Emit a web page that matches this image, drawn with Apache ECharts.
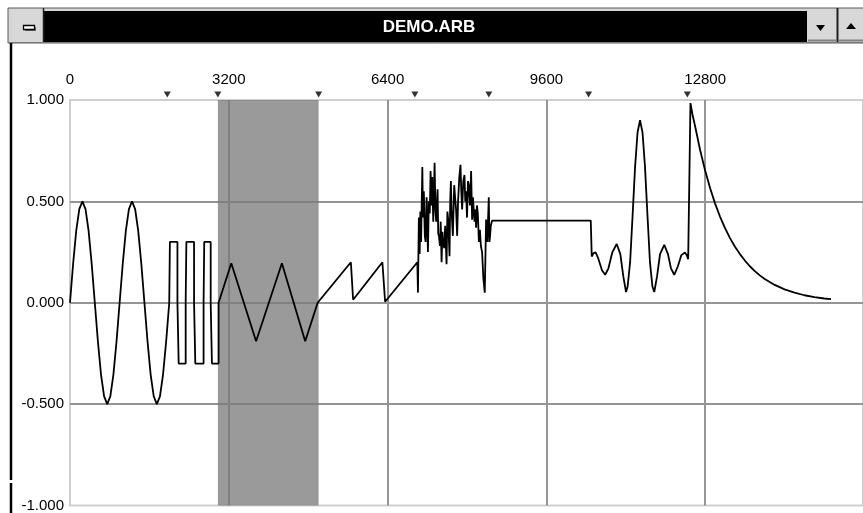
<!DOCTYPE html>
<html>
<head>
<meta charset="utf-8">
<script src="https://cdn.jsdelivr.net/npm/echarts@6/dist/echarts.min.js"></script>
<style>
html,body{margin:0;padding:0;background:#fff;}
#chart{width:863px;height:513px;}
</style>
</head>
<body>
<div id="chart"></div>
<script>
// ---- data ----
const titleText = 'DEMO.ARB';
const xTicks = [0, 3200, 6400, 9600, 12800];
const yTicks = [-1, -0.5, 0, 0.5, 1];
const markerX = [1960, 2980, 5010, 6950, 8440, 10450, 12440];
const shadedRange = [2980, 5010];

const sineSeg = [
  [0,0],[62.5,0.191],[125,0.354],[187.5,0.462],[250,0.5],[312.5,0.462],[375,0.354],[437.5,0.191],
  [500,0],[562.5,-0.191],[625,-0.354],[687.5,-0.462],[750,-0.5],[812.5,-0.462],[875,-0.354],[937.5,-0.191],
  [1000,0],[1062.5,0.191],[1125,0.354],[1187.5,0.462],[1250,0.5],[1312.5,0.462],[1375,0.354],[1437.5,0.191],
  [1500,0],[1562.5,-0.191],[1625,-0.354],[1687.5,-0.462],[1750,-0.5],[1812.5,-0.462],[1875,-0.354],[1937.5,-0.191],
  [2000,0]
];
const squareSeg = [
  [2013,0],[2013,0.3],[2165,0.3],[2165,0],[2190,0],[2190,-0.3],
  [2331,-0.3],[2331,0],[2345,0],[2345,0.3],[2500,0.3],[2500,0],[2525,0],[2525,-0.3],
  [2692,-0.3],[2692,0],[2705,0],[2705,0.3],[2835,0.3],[2835,0],[2860,0],[2860,-0.3],
  [2994,-0.3]
];
const triangleSeg = [
  [2994,0],[3250,0.195],[3750,-0.19],[4270,0.195],[4740,-0.19],[4990,0]
];
const sawSeg = [
  [5660,0.2],[5705,0.015],[6295,0.2],[6350,0.005],[6999,0.2]
];
const noiseSeg = [
  [7012,0.05],[7030,0.42],[7046,0.24],[7060,0.45],[7075,0.30],[7100,0.67],[7113,0.42],[7130,0.55],
  [7150,0.33],[7166,0.30],[7186,0.52],[7200,0.38],[7213,0.25],[7230,0.50],[7250,0.44],[7266,0.65],
  [7286,0.48],[7300,0.62],[7320,0.40],[7347,0.69],[7365,0.45],[7380,0.40],[7407,0.56],[7420,0.34],
  [7434,0.33],[7455,0.28],[7470,0.40],[7488,0.20],[7505,0.35],[7515,0.30],[7541,0.27],[7560,0.38],
  [7588,0.19],[7605,0.45],[7621,0.41],[7648,0.23],[7662,0.50],[7675,0.60],[7690,0.45],[7715,0.33],
  [7742,0.58],[7760,0.52],[7780,0.46],[7802,0.33],[7820,0.50],[7845,0.62],[7869,0.68],[7885,0.55],
  [7902,0.46],[7925,0.60],[7949,0.63],[7965,0.50],[7982,0.55],[8000,0.42],[8020,0.60],[8037,0.58],
  [8060,0.48],[8083,0.65],[8103,0.41],[8120,0.52],[8151,0.40],[8170,0.46],[8183,0.37],[8200,0.48],
  [8218,0.44],[8240,0.30],[8260,0.36],[8280,0.28],[8304,0.25],[8330,0.12],[8358,0.05],[8385,0.41],
  [8410,0.30],[8439,0.52],[8452,0.30],[8465,0.33],[8480,0.38],[8505,0.405]
];
const flatSeg = [[10494,0.405]];
const burstSeg = [
  [10514,0.228],[10550,0.245],[10595,0.248],[10650,0.215],[10720,0.16],[10784,0.138],[10850,0.17],
  [10930,0.25],[11017,0.29],[11090,0.24],[11150,0.13],[11205,0.053],[11237,0.08],[11287,0.2],
  [11337,0.43],[11387,0.67],[11437,0.84],[11487,0.9],[11537,0.84],[11587,0.67],[11637,0.43],
  [11687,0.2],[11737,0.08],[11774,0.053],[11830,0.13],[11890,0.24],[11975,0.286],[12050,0.24],
  [12110,0.17],[12176,0.138],[12250,0.18],[12320,0.235],[12391,0.248],[12430,0.235],[12457,0.215]
];
const decaySeg = [
  [12503,0.985],[12543,0.93],[12600,0.867],[12700,0.751],[12800,0.651],[12900,0.565],[13000,0.489],
  [13100,0.424],[13200,0.368],[13300,0.319],[13400,0.276],[13500,0.24],[13600,0.208],[13700,0.18],
  [13800,0.156],[13900,0.135],[14000,0.117],[14200,0.088],[14400,0.066],[14600,0.05],[14800,0.037],
  [15000,0.028],[15200,0.021],[15336,0.018]
];
const waveData = [].concat(sineSeg, squareSeg, triangleSeg, sawSeg, noiseSeg, flatSeg, burstSeg, decaySeg);
const markerLevel = 1.027;

// ---- chart ----
const chart = echarts.init(document.getElementById('chart'), null, {renderer: 'canvas'});
const FONT = "'Liberation Sans', Arial, sans-serif";
const gridColor = '#959595';

const option = {
  animation: false,
  backgroundColor: '#ffffff',
  grid: {
    left: 70, right: -2, top: 100, bottom: 6,
    show: true, backgroundColor: '#ffffff', borderColor: '#cfcfcf', borderWidth: 2
  },
  xAxis: {
    type: 'value', position: 'top', z: 1,
    min: xTicks[0], max: 15980, interval: xTicks[1] - xTicks[0],
    axisLine: {show: false}, axisTick: {show: false},
    axisLabel: {
      margin: 13, fontSize: 15, color: '#000', fontFamily: FONT, showMaxLabel: false,
      formatter: v => (xTicks.indexOf(v) >= 0 ? String(v) : '')
    },
    splitLine: {show: true, showMinLine: false, showMaxLine: false, lineStyle: {color: gridColor, width: 2}}
  },
  yAxis: {
    type: 'value', z: 1,
    min: yTicks[0], max: yTicks[yTicks.length - 1], interval: 0.5,
    axisLine: {show: false}, axisTick: {show: false},
    axisLabel: {margin: 6, fontSize: 15, color: '#000', fontFamily: FONT, formatter: v => v.toFixed(3)},
    splitLine: {show: true, showMinLine: false, showMaxLine: false, lineStyle: {color: gridColor, width: 2}}
  },
  series: [
    {
      type: 'line', data: [], z: 2, silent: true,
      markArea: {
        silent: true, itemStyle: {color: 'rgba(121,121,121,0.755)'},
        data: [[{xAxis: shadedRange[0]}, {xAxis: shadedRange[1]}]]
      }
    },
    {
      type: 'line', data: waveData, showSymbol: false, z: 3, silent: true,
      lineStyle: {color: '#000', width: 1.8}
    },
    {
      type: 'scatter', clip: false, z: 4, silent: true,
      data: markerX.map(x => [x, markerLevel]),
      symbol: 'triangle', symbolRotate: 180, symbolSize: [7, 6],
      itemStyle: {color: '#000'}
    }
  ],
  graphic: [
    // window frame around title bar
    {type: 'rect', shape: {x: 8, y: 8, width: 870, height: 35}, style: {fill: '#d6d6d6', stroke: '#5a5a5a', lineWidth: 1}, z: 10},
    {type: 'rect', shape: {x: 44, y: 11, width: 763, height: 31}, style: {fill: '#000'}, z: 11},
    // system menu box
    {type: 'rect', shape: {x: 12, y: 11, width: 31, height: 31}, style: {fill: '#d8d8d8'}, z: 11},
    {type: 'line', shape: {x1: 43.5, y1: 8, x2: 43.5, y2: 43}, style: {stroke: '#202020', lineWidth: 1.5}, z: 12},
    {type: 'rect', shape: {x: 25, y: 27, width: 11, height: 4}, style: {fill: '#6a6a6a'}, z: 12},
    {type: 'rect', shape: {x: 23.5, y: 25.5, width: 11, height: 4}, style: {fill: '#ffffff', stroke: '#000', lineWidth: 1.3}, z: 13},
    // title
    {type: 'text', x: 429, y: 27, z: 13,
      style: {text: titleText, fill: '#ffffff', font: "bold 17px " + FONT, align: 'center', verticalAlign: 'middle'}},
    // right buttons
    {type: 'rect', shape: {x: 808, y: 11, width: 28, height: 31}, style: {fill: '#d8d8d8'}, z: 11},
    {type: 'line', shape: {x1: 808, y1: 40.5, x2: 836, y2: 40.5}, style: {stroke: '#808080', lineWidth: 2}, z: 12},
    {type: 'line', shape: {x1: 837.5, y1: 8, x2: 837.5, y2: 43}, style: {stroke: '#202020', lineWidth: 2}, z: 12},
    {type: 'rect', shape: {x: 839, y: 11, width: 30, height: 31}, style: {fill: '#d8d8d8'}, z: 11},
    {type: 'line', shape: {x1: 839, y1: 40.5, x2: 869, y2: 40.5}, style: {stroke: '#808080', lineWidth: 2}, z: 12},
    {type: 'polygon', shape: {points: [[816, 25], [825, 25], [820.5, 31]]}, style: {fill: '#000'}, z: 13},
    {type: 'polygon', shape: {points: [[846, 29], [856, 29], [851, 23]]}, style: {fill: '#000'}, z: 13},
    // line under title area
    {type: 'line', shape: {x1: 8, y1: 42.5, x2: 863, y2: 42.5}, style: {stroke: '#7a7a7a', lineWidth: 1}, z: 12},
    // left window border
    {type: 'line', shape: {x1: 11, y1: 43, x2: 11, y2: 480}, style: {stroke: '#000', lineWidth: 2.5}, z: 12},
    {type: 'line', shape: {x1: 11, y1: 483, x2: 11, y2: 513}, style: {stroke: '#000', lineWidth: 2.5}, z: 12}
  ]
};
chart.setOption(option);
</script>
</body>
</html>
